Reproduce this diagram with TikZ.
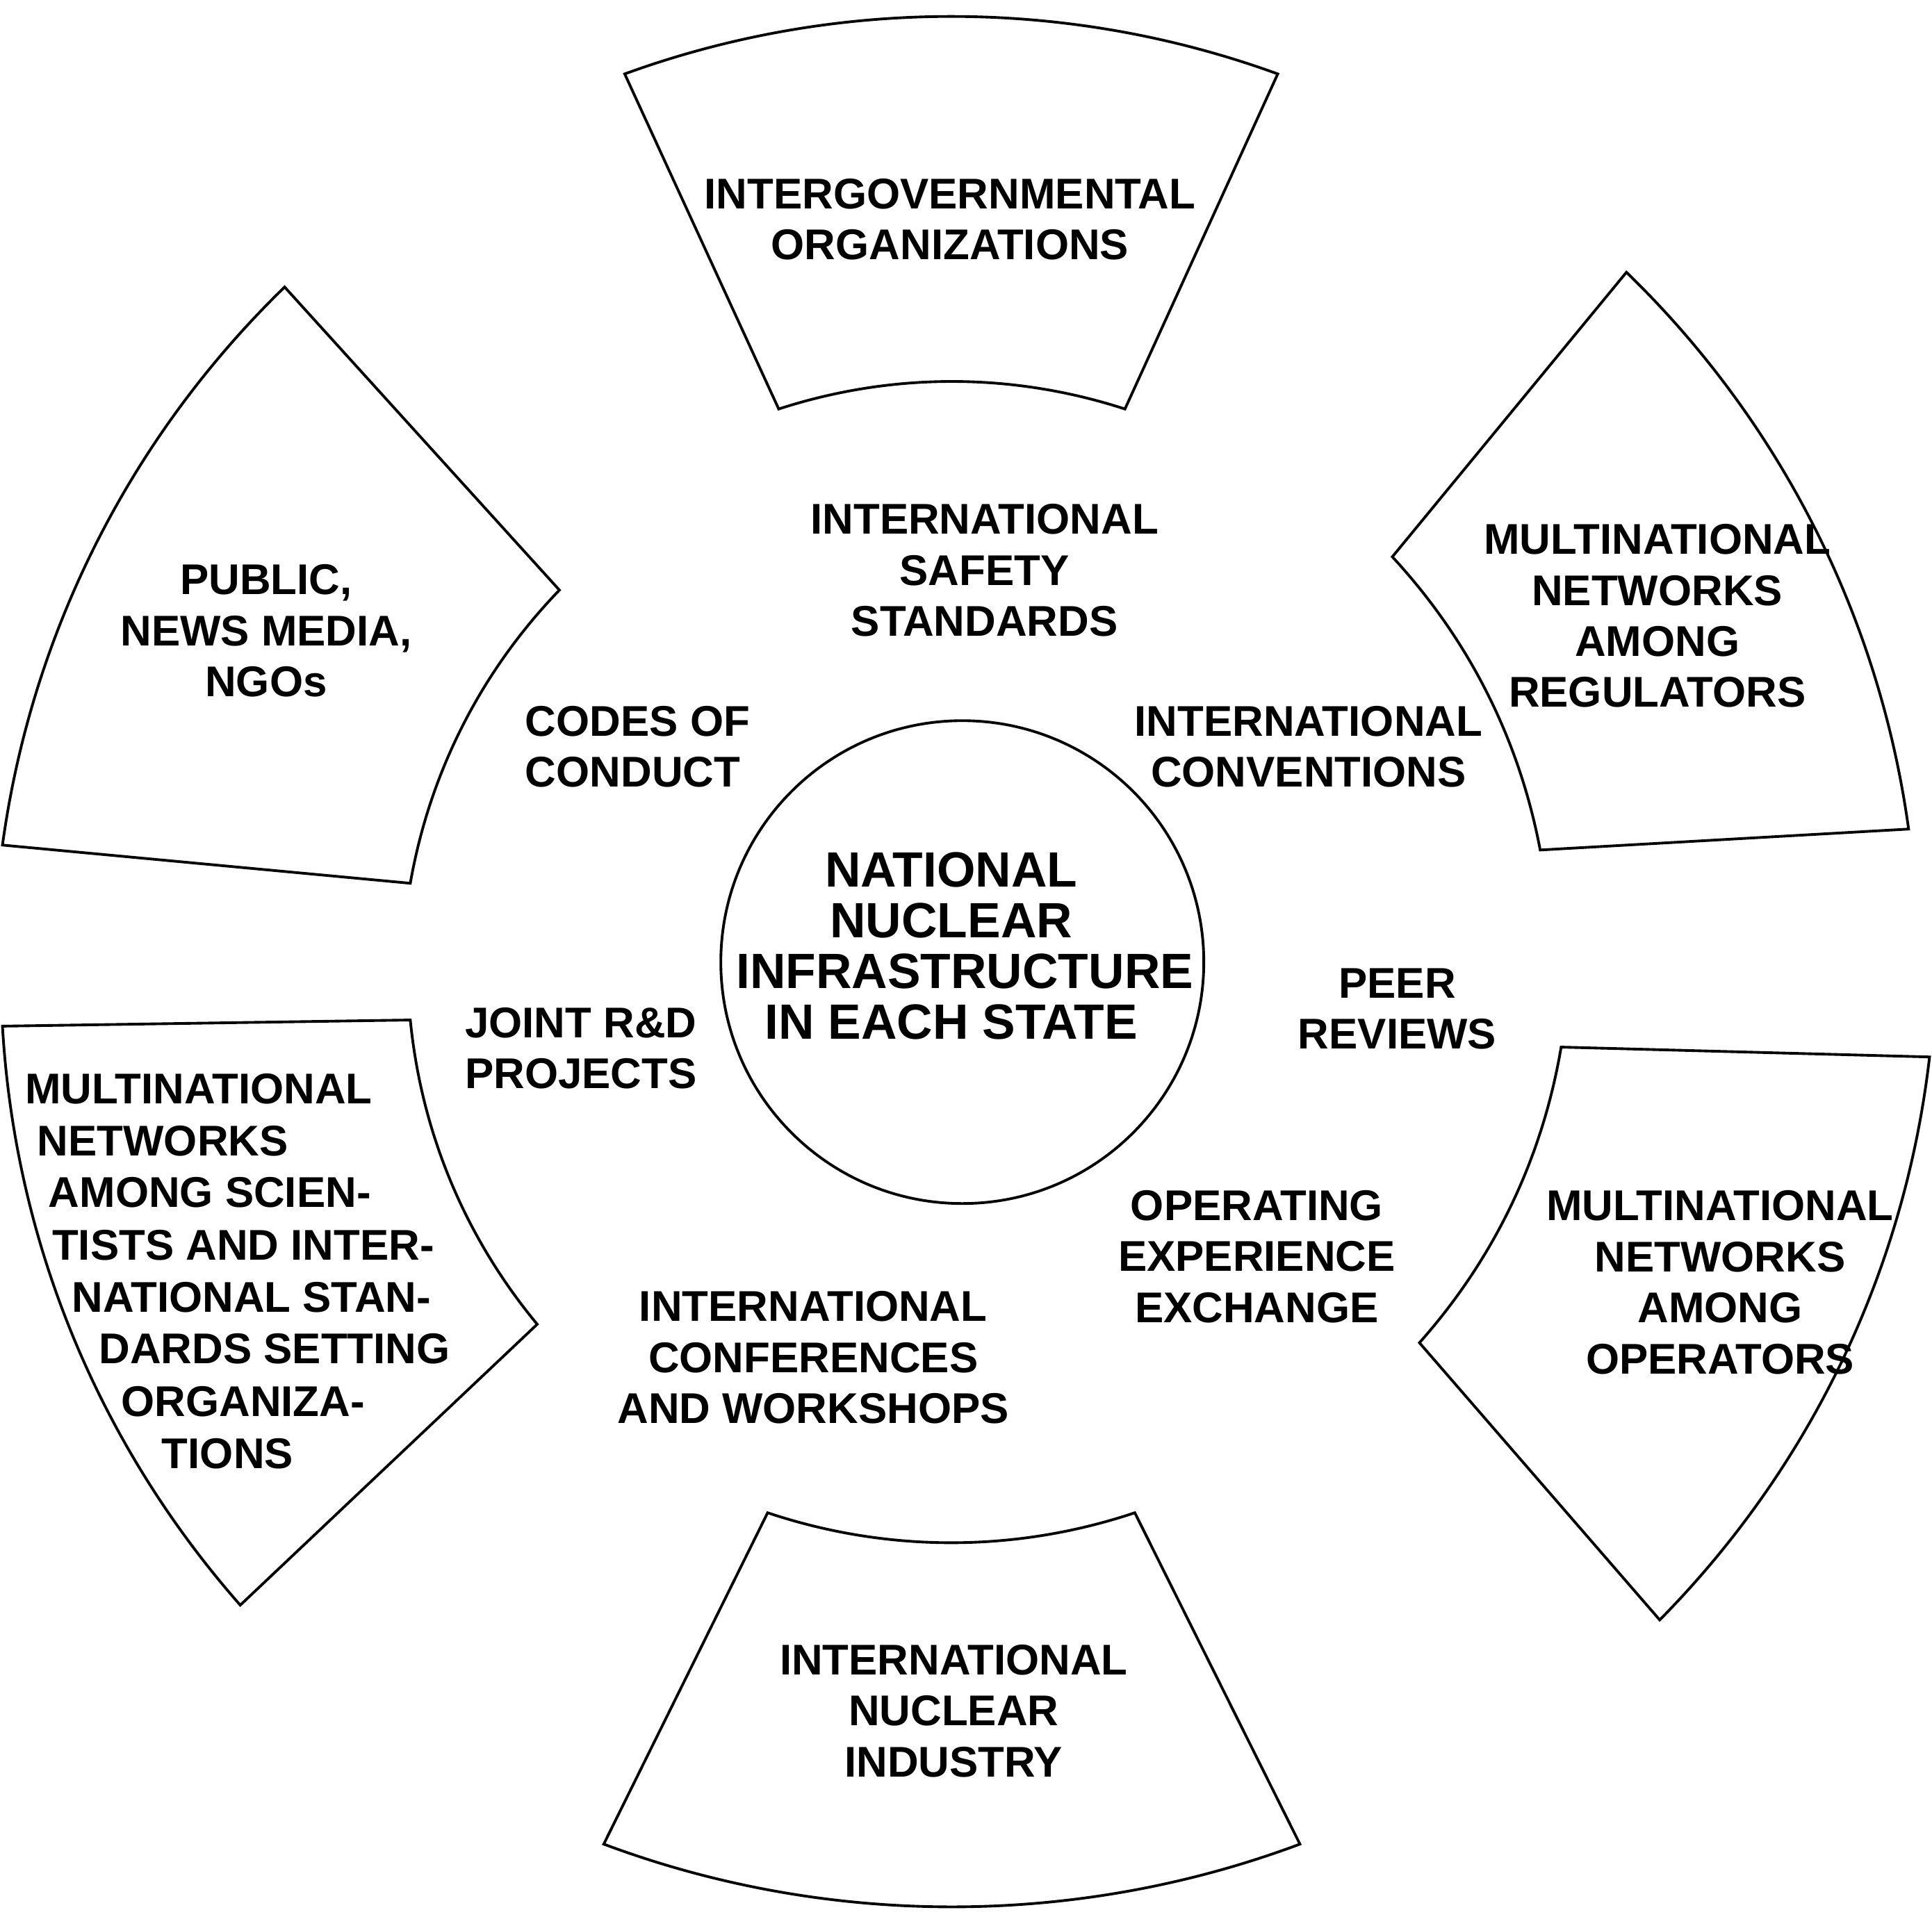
\documentclass[tikz,border=0pt]{standalone}
\usepackage{fontspec}
\setmainfont{Liberation Sans}
\begin{document}
\begin{tikzpicture}[x=0.01773cm,y=-0.01773cm,
  seg/.style={draw=black,line width=1.1pt,line join=miter,fill=white},
  lbl/.style={font=\fontsize{17.6}{20.9}\selectfont\bfseries,align=center,inner sep=0pt},
  lline/.style={font=\fontsize{17.6}{20.9}\selectfont\bfseries,inner sep=0pt,anchor=west},
  ctrtxt/.style={font=\fontsize{20.3}{20.8}\selectfont\bfseries,align=center,inner sep=0pt},
  arcb/.style={looseness=0.88}]
\useasboundingbox (0,0) rectangle (1568,1563);
% segments
\draw[seg] (507,60) to[bend left=20,arcb] (1037,60) -- (913,332) to[bend right=18,arcb] (632,332) -- cycle;
\draw[seg] (1320,221) to[bend left=19,arcb] (1549,673) -- (1250,690) to[bend right=16,arcb] (1130,452) -- cycle;
\draw[seg] (1566,858) to[bend left=19,arcb] (1347,1315) -- (1152,1090) to[bend right=16,arcb] (1267,850) -- cycle;
\draw[seg] (1055,1497) to[bend left=20.5,arcb] (490,1497) -- (623,1228) to[bend right=18.5,arcb] (921,1228) -- cycle;
\draw[seg] (195,1303) to[bend left=19,arcb] (2,833) -- (333,828) to[bend right=17,arcb] (436,1075) -- cycle;
\draw[seg] (2,686) to[bend left=19,arcb] (231,233) -- (454,479) to[bend right=17,arcb] (333,717) -- cycle;
% center circle
\node[circle,draw=black,line width=1.1pt,minimum size=6.95cm,inner sep=0pt] (core) at (781,781) {};
\node[ctrtxt] (coretxt) at (772,768) {NATIONAL\\NUCLEAR\\\hspace*{0.39cm}INFRASTRUCTURE\\IN EACH STATE};
% segment labels
\node[lbl] (igo) at (771,178) {INTERGOVERNMENTAL\\ORGANIZATIONS};
\node[lbl] (reg) at (1345,500) {MULTINATIONAL\\NETWORKS\\AMONG\\REGULATORS};
\node[lbl] (ops) at (1396,1041) {MULTINATIONAL\\NETWORKS\\AMONG\\OPERATORS};
\node[lbl] (ind) at (774,1389) {INTERNATIONAL\\NUCLEAR\\INDUSTRY};
\node[lbl] (pub) at (216,512) {PUBLIC,\\NEWS MEDIA,\\NGOs};
\node[lline] (sc1) at (20,884) {MULTINATIONAL};
\node[lline] (sc2) at (30,926) {NETWORKS};
\node[lline] (sc3) at (39,968) {AMONG SCIEN-};
\node[lline] (sc4) at (42,1011) {TISTS AND INTER-};
\node[lline] (sc5) at (58,1053) {NATIONAL STAN-};
\node[lline] (sc6) at (80,1095) {DARDS SETTING};
\node[lline] (sc7) at (98,1138) {ORGANIZA-};
\node[lline] (sc8) at (131,1180) {TIONS};
% mechanism labels
\node[lbl] (iss) at (799,463) {INTERNATIONAL\\SAFETY\\STANDARDS};
\node[lbl,align=left,anchor=west] (coc) at (426,606) {CODES OF\\CONDUCT};
\node[lbl] (conv) at (1062,606) {INTERNATIONAL\\CONVENTIONS};
\node[lbl] (peer) at (1134,819) {PEER\\REVIEWS};
\node[lbl,align=left,anchor=west] (rd) at (377,851) {JOINT R\&D\\PROJECTS};
\node[lbl] (oee) at (1020,1020) {OPERATING\\EXPERIENCE\\EXCHANGE};
\node[lbl] (conf) at (660,1102) {INTERNATIONAL\\CONFERENCES\\AND WORKSHOPS};
\end{tikzpicture}
\end{document}
